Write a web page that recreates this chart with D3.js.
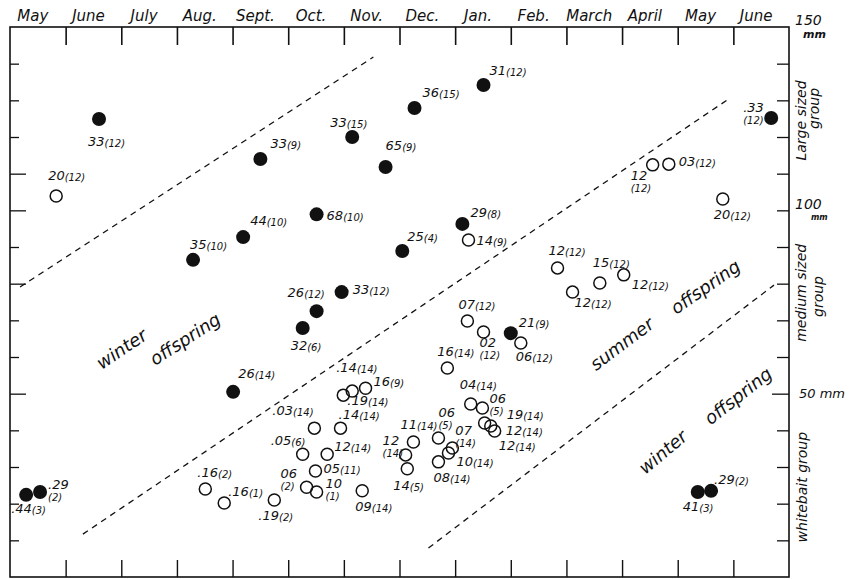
<!DOCTYPE html>
<html><head><meta charset="utf-8">
<script src="https://cdn.jsdelivr.net/npm/d3@7"></script>
<style>
body{margin:0;background:#fff}
text{font-family:"DejaVu Sans","Liberation Sans",sans-serif;font-style:italic;fill:#111}
</style>
</head><body>
<svg id="c" width="850" height="579"></svg>
<script>
// ---------- DATA ----------
const months = ["May","June","July","Aug.","Sept.","Oct.","Nov.","Dec.","Jan.","Feb.","March","April","May","June"];
const lengthTicks = [0,10,20,30,40,50,60,70,80,90,100,110,120,130,140,150];

// filled circles (month position from start of first May, body length mm, label)
const filledMonth  = [1.60,4.50,6.15,6.75,7.27,8.51,5.51,4.19,3.29,7.05,8.13,5.96,5.51,5.26,4.01,13.68,9.00,0.29,0.54,12.36,12.60];
const filledLength = [124.9,114.0,120.0,111.8,127.9,134.2,98.9,92.7,86.5,88.9,96.3,77.7,72.5,67.9,50.5,125.2,66.5,22.4,23.2,23.2,23.5];
const filledLabel  = ["33(12)","33(9)","33(15)","65(9)","36(15)","31(12)","68(10)","44(10)","35(10)","25(4)","29(8)","33(12)","26(12)","32(6)","26(14)",".33|(12)","21(9)",".44(3)",".29|(2)","41(3)",".29(2)"];

// open circles
const openMonth  = [0.83,8.24,11.55,11.84,12.81,9.84,10.11,10.60,11.03,8.22,8.51,9.18,7.86,8.28,8.49,8.53,8.64,8.71,7.25,7.70,7.95,7.88,7.70,7.11,7.14,6.15,6.39,5.99,5.47,5.94,5.26,5.70,5.49,3.51,3.85,4.75,5.33,5.51,6.33];
const openLength = [103.9,91.9,112.4,112.6,103.1,84.3,77.7,80.2,82.4,69.8,66.8,63.8,57.0,47.2,46.1,42.0,41.2,39.8,36.8,37.9,35.2,33.8,31.4,33.3,29.5,50.7,51.5,49.6,40.6,40.6,33.5,33.5,28.9,24.0,20.2,21.0,24.5,23.2,23.5];
const openLabel  = ["20(12)","14(9)","12|(12)","03(12)","20(12)","12(12)","12(12)","15(12)","12(12)","07(12)","02|(12)","06(12)","16(14)","04(14)","06|(5)","19(14)","12(14)","12(14)","11(14)","06|(5)","07|(14)","10(14)","08(14)","12|(14)","14(5)",".14(14)","16(9)",".19(14)",".03(14)",".14(14)",".05(6)","12(14)","05(11)",".16(2)",".16(1)",".19(2)","06|(2)","10|(1)","09(14)"];

// dashed group boundaries: [month1, mm1, month2, mm2]
const boundaries = [[0.18,79.1,6.53,141.8],[1.31,11.7,12.92,130.4],[7.52,7.9,13.73,79.6]];

// ---------- LAYOUT (label offsets in px, relative to point) ----------
const filledLabelOffset = [[-11,27],[10,-11],[-22,-10],[0,-17],[8,-11],[6,-10],[10,6],[7,-12],[-3,-11],[5,-10],[8,-7],[11,2],[-29,-14],[-12,22],[5,-14],[-28,-6],[8,-6],[-15,18],[8,-3],[-15,19],[3,-7]];
const openLabelOffset = [[-8,-16],[8,5],[-22,15],[10,2],[-9,20],[-9,-13],[2,15],[-7,-16],[8,14],[-9,-12],[-4,15],[-5,18],[-10,-12],[-11,-15],[7,-5],[22,-4],[15,9],[4,19],[-13,-13],[0,-21],[3,-13],[8,13],[-5,20],[-23,-10],[-14,21],[-16,-19],[8,-2],[4,10],[-42,-13],[-2,-9],[-32,-9],[7,-3],[8,2],[-8,-12],[4,-7],[-16,20],[-26,-9],[9,-4],[-7,20]];

const zoneText = [
  {t:"winter", m:2.02, v:61.9, a:-34},
  {t:"offspring", m:3.16, v:64.6, a:-33},
  {t:"summer", m:11.01, v:63.3, a:-37},
  {t:"offspring", m:12.51, v:78.8, a:-35},
  {t:"winter", m:11.75, v:33.8, a:-40},
  {t:"offspring", m:13.10, v:49.1, a:-38}
];

// ---------- DRAW ----------
const svg = d3.select("#c");
const L = 10, R = 789, T = 27, B = 577;
const x = d3.scaleLinear().domain([0,14]).range([L,R]);
const y = d3.scaleLinear().domain([0,150]).range([B,T]);
const ink = "#111";

// frame
svg.append("rect").attr("x",L).attr("y",T).attr("width",R-L).attr("height",B-T)
  .attr("fill","none").attr("stroke",ink).attr("stroke-width",1.6);

// month ticks top & bottom
const boundariesM = d3.range(1,14);
const topAxis = d3.axisTop(x).tickValues(boundariesM).tickSize(-18).tickFormat("");
svg.append("g").attr("transform",`translate(0,${T})`).call(topAxis)
  .call(g=>{g.select(".domain").remove(); g.selectAll("line").attr("stroke",ink).attr("stroke-width",1.6);});
const botAxis = d3.axisBottom(x).tickValues(boundariesM).tickSize(-17).tickFormat("");
svg.append("g").attr("transform",`translate(0,${B})`).call(botAxis)
  .call(g=>{g.select(".domain").remove(); g.selectAll("line").attr("stroke",ink).attr("stroke-width",1.4);});

// month labels
svg.append("g").selectAll("text").data(months).join("text")
  .attr("x",(d,i)=>x(i+0.5)-5).attr("y",21).attr("text-anchor","middle")
  .attr("font-size",15).text(d=>d);

// length ticks left & right
const leftAxis = d3.axisLeft(y).tickValues(lengthTicks.slice(1,15)).tickSize(-10).tickFormat("");
svg.append("g").attr("transform",`translate(${L},0)`).call(leftAxis)
  .call(g=>{g.select(".domain").remove(); g.selectAll("line").attr("stroke",ink).attr("stroke-width",1.3)
    .attr("x2",d=>(d%50===0||d===80||d===110)?16:9);});
const rightAxis = d3.axisRight(y).tickValues(lengthTicks.slice(1,15)).tickSize(-12).tickFormat("");
svg.append("g").attr("transform",`translate(${R},0)`).call(rightAxis)
  .call(g=>{g.select(".domain").remove(); g.selectAll("line").attr("stroke",ink).attr("stroke-width",1.3)
    .attr("x2",d=>d===50?-17:-12);});

// dashed boundaries
svg.append("g").selectAll("line").data(boundaries).join("line")
  .attr("x1",d=>x(d[0])).attr("y1",d=>y(d[1])).attr("x2",d=>x(d[2])).attr("y2",d=>y(d[3]))
  .attr("stroke",ink).attr("stroke-width",1.3).attr("stroke-dasharray","6,5");

// zone labels
svg.append("g").selectAll("text").data(zoneText).join("text")
  .attr("transform",d=>`translate(${x(d.m)},${y(d.v)}) rotate(${d.a})`)
  .attr("text-anchor","middle").attr("dominant-baseline","middle")
  .attr("font-size",18).text(d=>d.t);

// point labels
function drawLabel(g, px, py, label, off){
  const lines = label.split("|");
  lines.forEach((ln,k)=>{
    const t = g.append("text").attr("x",px+off[0]).attr("y",py+off[1]+k*12);
    const idx = ln.indexOf("(");
    if(idx===0){
      t.append("tspan").attr("font-size",10).text(ln);
    } else if(idx>0){
      t.append("tspan").attr("font-size",13).text(ln.slice(0,idx));
      t.append("tspan").attr("font-size",10).attr("dy",1).text(ln.slice(idx));
    } else {
      t.append("tspan").attr("font-size",13).text(ln);
    }
  });
}

const gOpen = svg.append("g");
openMonth.forEach((m,i)=>{
  const px = x(m), py = y(openLength[i]);
  gOpen.append("circle").attr("cx",px).attr("cy",py).attr("r",6)
    .attr("fill","none").attr("stroke",ink).attr("stroke-width",1.5);
  drawLabel(gOpen, px, py, openLabel[i], openLabelOffset[i]);
});

const gFill = svg.append("g");
filledMonth.forEach((m,i)=>{
  const px = x(m), py = y(filledLength[i]);
  gFill.append("circle").attr("cx",px).attr("cy",py).attr("r",7).attr("fill",ink);
  drawLabel(gFill, px, py, filledLabel[i], filledLabelOffset[i]);
});

// right-side axis annotations
const ra = svg.append("g");
ra.append("text").attr("x",R+6).attr("y",y(150)-2).attr("font-size",14).text("150");
ra.append("text").attr("x",R+14).attr("y",y(150)+11).attr("font-size",11).attr("font-weight","bold").text("mm");
ra.append("text").attr("x",R+6).attr("y",y(100)-1).attr("font-size",14).text("100");
ra.append("text").attr("x",R+22).attr("y",y(100)+10).attr("font-size",8).attr("font-weight","bold").text("mm");
ra.append("text").attr("x",R+10).attr("y",y(50)+4).attr("font-size",13).text("50 mm");
function vtext(xx, mm, s, fs){
  ra.append("text").attr("transform",`translate(${xx},${y(mm)}) rotate(-90)`)
    .attr("text-anchor","middle").attr("font-size",fs).text(s);
}
vtext(R+17, 124.5, "Large sized", 14);
vtext(R+30, 127.8, "group", 14);
vtext(R+17, 77.5, "medium sized", 14);
vtext(R+34, 76.5, "group", 14);
vtext(R+18, 24.5, "whitebait group", 14);
</script>
</body></html>
